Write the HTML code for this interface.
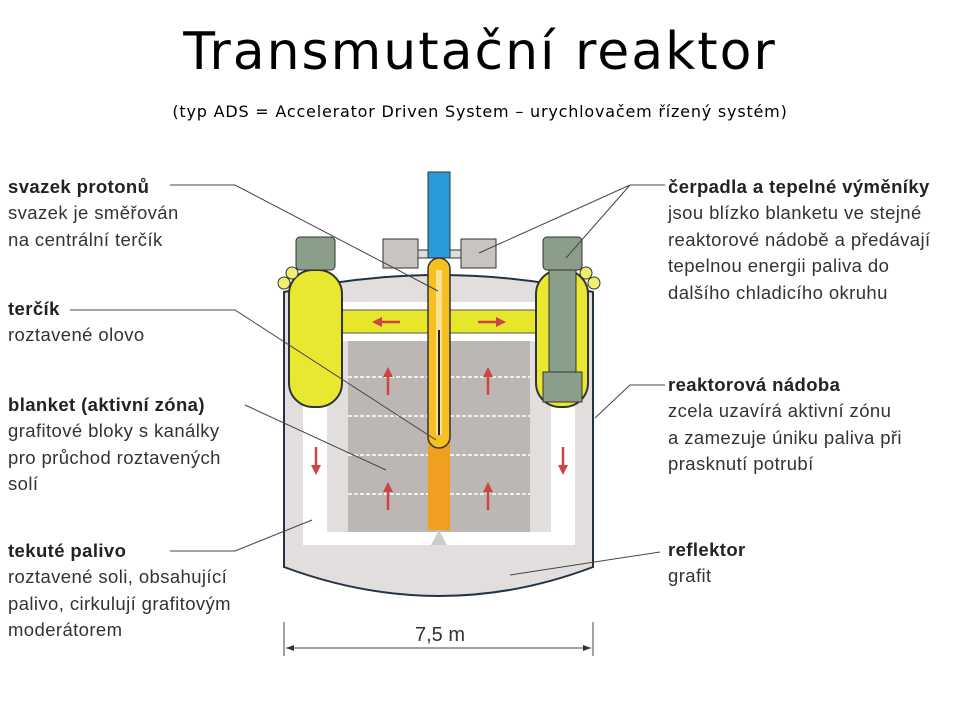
<!DOCTYPE html>
<html><head><meta charset="utf-8"><style>
body{margin:0;width:960px;height:720px;background:#fff;position:relative;overflow:hidden;font-family:"Liberation Sans",sans-serif}
.t{position:absolute;left:0;width:960px;text-align:center}
.l{position:absolute;font-size:18.5px;line-height:26.4px;color:#333;letter-spacing:0.4px;white-space:nowrap}
.l b{color:#222}
</style></head><body>
<div class="t" style="top:22px;font-family:'DejaVu Sans',sans-serif;font-size:52px;letter-spacing:2px">Transmutační reaktor</div>
<div class="t" style="top:102px;font-family:'DejaVu Sans',sans-serif;font-size:16px;letter-spacing:0.8px">(typ ADS = Accelerator Driven System – urychlovačem řízený systém)</div>
<svg width="960" height="720" style="position:absolute;left:0;top:0">
<defs><marker id="a" viewBox="0 0 10 10" refX="5" refY="5" markerWidth="4" markerHeight="4" orient="auto"><path d="M0,0L10,5L0,10z" fill="#c44"/></marker></defs>
<path d="M284,292 Q440,258 593,292 L593,567 Q440,625 284,567 Z" fill="#e2dede" stroke="#234" stroke-width="2"/>
<rect x="303" y="302" width="272" height="8" fill="#fff"/>
<rect x="303" y="333" width="272" height="8" fill="#fff"/>
<rect x="303" y="341" width="24" height="204" fill="#fff"/>
<rect x="551" y="341" width="24" height="204" fill="#fff"/>
<rect x="303" y="532" width="272" height="13" fill="#fff"/>
<rect x="303" y="310" width="272" height="23" fill="#e6e62a" stroke="#555" stroke-width="1"/>
<rect x="348" y="341" width="182" height="191" fill="#bdb7b3"/>
<g stroke="#eee" stroke-width="2" stroke-dasharray="4 2"><line x1="348" y1="377" x2="530" y2="377"/><line x1="348" y1="416" x2="530" y2="416"/><line x1="348" y1="455" x2="530" y2="455"/><line x1="348" y1="494" x2="530" y2="494"/></g>
<rect x="289" y="270" width="53" height="137" rx="24" fill="#e8e830" stroke="#333" stroke-width="2"/>
<rect x="536" y="270" width="52" height="137" rx="24" fill="#e8e830" stroke="#333" stroke-width="2"/>
<circle cx="284" cy="283" r="6" fill="#f0f070" stroke="#333"/><circle cx="292" cy="273" r="6" fill="#f0f070" stroke="#333"/>
<circle cx="594" cy="283" r="6" fill="#f0f070" stroke="#333"/><circle cx="586" cy="273" r="6" fill="#f0f070" stroke="#333"/>
<rect x="296" y="237" width="39" height="33" rx="4" fill="#8a9e8a" stroke="#333"/>
<rect x="543" y="237" width="39" height="33" rx="4" fill="#8a9e8a" stroke="#333"/>
<rect x="549" y="270" width="27" height="105" fill="#8a9e8a" stroke="#333"/>
<rect x="543" y="372" width="39" height="30" fill="#8a9e8a" stroke="#333"/>
<rect x="383" y="239" width="35" height="29" fill="#c8c4c0" stroke="#333"/>
<rect x="461" y="239" width="35" height="29" fill="#c8c4c0" stroke="#333"/>
<rect x="418" y="250" width="43" height="8" fill="#ddd" stroke="#333"/>
<rect x="428" y="172" width="22" height="86" fill="#2a9ad8" stroke="#333"/>
<rect x="428" y="440" width="22" height="90" fill="#f0a020"/>
<path d="M439,530 L431,545 L447,545Z" fill="#ccc"/>
<rect x="428" y="258" width="22" height="190" rx="11" fill="#f5c020" stroke="#333" stroke-width="1.5"/>
<rect x="436" y="270" width="6" height="165" fill="#fbe090"/>
<line x1="439" y1="330" x2="439" y2="435" stroke="#222" stroke-width="2"/>
<g stroke="#c44" stroke-width="2.5" marker-end="url(#a)">
<line x1="388" y1="395" x2="388" y2="372"/><line x1="488" y1="395" x2="488" y2="372"/>
<line x1="388" y1="510" x2="388" y2="487"/><line x1="488" y1="510" x2="488" y2="487"/>
<line x1="316" y1="447" x2="316" y2="470"/><line x1="563" y1="447" x2="563" y2="470"/>
<line x1="400" y1="322" x2="377" y2="322"/><line x1="478" y1="322" x2="501" y2="322"/>
</g>
<g stroke="#444" stroke-width="1" fill="none">
<path d="M170,185 L235,185 L438,291"/>
<path d="M70,310 L235,310 L436,440"/>
<path d="M245,405 L386,470"/>
<path d="M170,551 L235,551 L312,520"/>
<path d="M665,185 L630,185 L479,253 M630,185 L566,258"/>
<path d="M665,385 L630,385 L595,418"/>
<path d="M660,552 L510,575"/>
<path d="M284,622 V656 M593,622 V656 M286,648 H591"/>
</g>
<path d="M286,648 l8,-3 v6z M591,648 l-8,-3 v6z" fill="#333"/>
<text x="440" y="641" text-anchor="middle" font-size="20" fill="#333" font-family="Liberation Sans">7,5 m</text>
</svg>
<div class="l" style="left:8px;top:174px"><b>svazek protonů</b><br>svazek je směřován<br>na centrální terčík</div>
<div class="l" style="left:8px;top:296px"><b>terčík</b><br>roztavené olovo</div>
<div class="l" style="left:8px;top:392px"><b>blanket (aktivní zóna)</b><br>grafitové bloky s kanálky<br>pro průchod roztavených<br>solí</div>
<div class="l" style="left:8px;top:538px"><b>tekuté palivo</b><br>roztavené soli, obsahující<br>palivo, cirkulují grafitovým<br>moderátorem</div>
<div class="l" style="left:668px;top:174px"><b>čerpadla a tepelné výměníky</b><br>jsou blízko blanketu ve stejné<br>reaktorové nádobě a předávají<br>tepelnou energii paliva do<br>dalšího chladicího okruhu</div>
<div class="l" style="left:668px;top:372px"><b>reaktorová nádoba</b><br>zcela uzavírá aktivní zónu<br>a zamezuje úniku paliva při<br>prasknutí potrubí</div>
<div class="l" style="left:668px;top:537px"><b>reflektor</b><br>grafit</div>
</body></html>
